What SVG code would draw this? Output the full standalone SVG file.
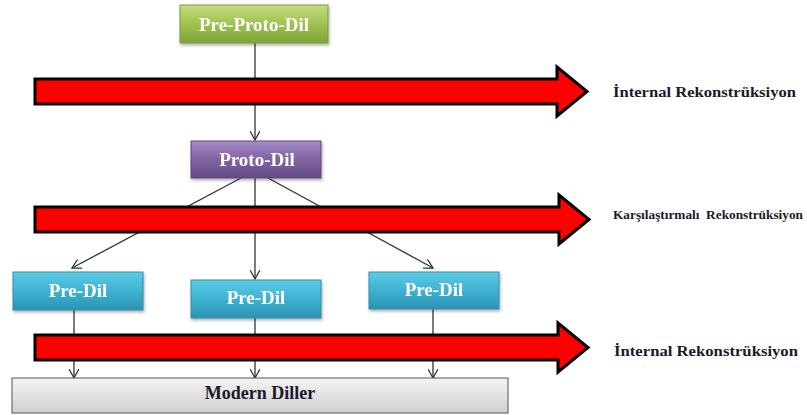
<svg xmlns="http://www.w3.org/2000/svg" width="807" height="415" viewBox="0 0 807 415">
<defs>
<linearGradient id="gGreen" x1="0" y1="0" x2="0" y2="1"><stop offset="0" stop-color="#c3dd82"/><stop offset="0.5" stop-color="#9fc24f"/><stop offset="1" stop-color="#7fa33a"/></linearGradient>
<linearGradient id="gPurple" x1="0" y1="0" x2="0" y2="1"><stop offset="0" stop-color="#a48ac6"/><stop offset="0.5" stop-color="#8064a2"/><stop offset="1" stop-color="#634a85"/></linearGradient>
<linearGradient id="gTeal" x1="0" y1="0" x2="0" y2="1"><stop offset="0" stop-color="#5ccbe6"/><stop offset="0.5" stop-color="#3fb2d2"/><stop offset="1" stop-color="#2c93b3"/></linearGradient>
<linearGradient id="gGray" x1="0" y1="0" x2="0" y2="1"><stop offset="0" stop-color="#f4f4f4"/><stop offset="1" stop-color="#cfcfcf"/></linearGradient>
<filter id="sh" x="-10%" y="-20%" width="120%" height="150%"><feDropShadow dx="1" dy="2" stdDeviation="1.5" flood-color="#000" flood-opacity="0.3"/></filter>
<marker id="open" viewBox="0 0 10 10" refX="9" refY="5" markerWidth="10" markerHeight="10" markerUnits="userSpaceOnUse" orient="auto"><path d="M0,0 L9,5 L0,10" fill="none" stroke="#333" stroke-width="1.3"/></marker>
</defs>
<style>
.lbl{font-family:"Liberation Serif","Times New Roman",serif;font-weight:bold;text-anchor:middle}
.wt{fill:#ffffff;font-size:19px}
.side{font-family:"Liberation Serif","Times New Roman",serif;font-weight:bold;fill:#1a1a2a}
.conn{stroke:#333;stroke-width:1.3;fill:none}
.band{fill:#ff0000;stroke:#000;stroke-width:3;stroke-linejoin:miter}
</style>
<rect width="807" height="415" fill="#ffffff"/>
<g id="connectors">
<line class="conn" x1="255" y1="43" x2="255" y2="140" marker-end="url(#open)"/>
<line class="conn" x1="241" y1="178" x2="72" y2="268" marker-end="url(#open)"/>
<line class="conn" x1="255" y1="178" x2="255" y2="279" marker-end="url(#open)"/>
<line class="conn" x1="268" y1="178" x2="433" y2="268" marker-end="url(#open)"/>
<line class="conn" x1="74" y1="310" x2="74" y2="378" marker-end="url(#open)"/>
<line class="conn" x1="255" y1="318" x2="255" y2="378" marker-end="url(#open)"/>
<line class="conn" x1="433" y1="309" x2="433" y2="378" marker-end="url(#open)"/>
</g>
<g id="bands">
<path class="band" d="M35,79 L557,79 L557,67 L587,91.5 L557,116 L557,104 L35,104 Z"/>
<path class="band" d="M35,207 L559,207 L559,195 L589,219.5 L559,244 L559,232 L35,232 Z"/>
<path class="band" d="M35,335 L558,335 L558,323 L588,347.5 L558,372 L558,360 L35,360 Z"/>
</g>
<g id="pre-proto-dil" filter="url(#sh)">
<rect x="180" y="5" width="148" height="38" fill="url(#gGreen)" stroke="#7a9a3c" stroke-width="1"/>
<text class="lbl wt" x="254" y="31">Pre-Proto-Dil</text>
</g>
<g id="proto-dil" filter="url(#sh)">
<rect x="191" y="141" width="130" height="37" fill="url(#gPurple)" stroke="#5e4780" stroke-width="1"/>
<text class="lbl wt" x="257" y="166">Proto-Dil</text>
</g>
<g id="pre-dil-1" filter="url(#sh)">
<rect x="13" y="272" width="130" height="38" fill="url(#gTeal)" stroke="#2f8eaa" stroke-width="1"/>
<text class="lbl wt" x="78" y="297">Pre-Dil</text>
</g>
<g id="pre-dil-2" filter="url(#sh)">
<rect x="191" y="280" width="130" height="38" fill="url(#gTeal)" stroke="#2f8eaa" stroke-width="1"/>
<text class="lbl wt" x="256" y="304">Pre-Dil</text>
</g>
<g id="pre-dil-3" filter="url(#sh)">
<rect x="369" y="272" width="130" height="37" fill="url(#gTeal)" stroke="#2f8eaa" stroke-width="1"/>
<text class="lbl wt" x="434" y="296">Pre-Dil</text>
</g>
<g id="modern-diller">
<rect x="12" y="378" width="496" height="35" fill="url(#gGray)" stroke="#555" stroke-width="1"/>
<text class="lbl" x="260" y="399" font-size="18" fill="#1a1a2a">Modern Diller</text>
</g>
<g id="labels">
<text class="side" x="613" y="97" font-size="15" textLength="183" lengthAdjust="spacingAndGlyphs">İnternal Rekonstrüksiyon</text>
<text class="side" x="613" y="219" font-size="12.5" textLength="190" lengthAdjust="spacingAndGlyphs" xml:space="preserve">Karşılaştırmalı  Rekonstrüksiyon</text>
<text class="side" x="614" y="356" font-size="15" textLength="184" lengthAdjust="spacingAndGlyphs">İnternal Rekonstrüksiyon</text>
</g>
</svg>
